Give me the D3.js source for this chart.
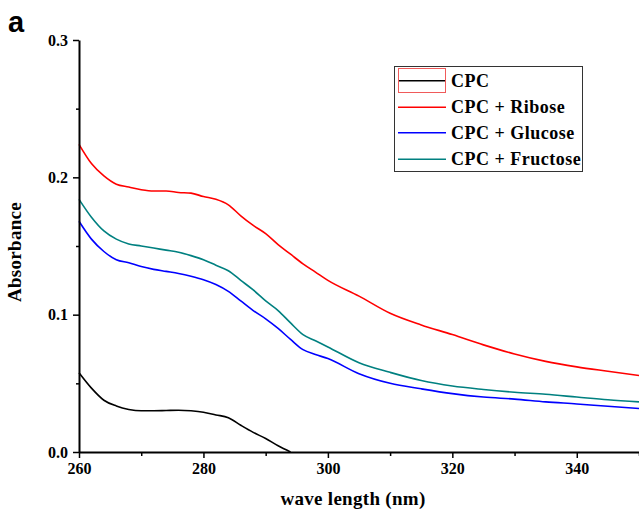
<!DOCTYPE html>
<html>
<head>
<meta charset="utf-8">
<script src="https://cdn.jsdelivr.net/npm/d3@7"></script>
<style>
  body { margin: 0; background: white; }
  text { font-family: "Liberation Serif", "Times New Roman", serif; font-weight: bold; }
</style>
</head>
<body>
<svg id="chart" width="639" height="513"></svg>
<script>
  // wavelength grid (nm)
  let wavelength = [260, 262, 264, 266, 268, 270, 272, 274, 276, 278, 280, 282, 284, 286, 288, 290, 292, 294,
                    296, 298, 300, 305, 310, 315, 320, 325, 330, 335, 340, 345, 350];
  let cpc = [0.0577, 0.0465, 0.0377, 0.0335, 0.031, 0.030, 0.030, 0.0302, 0.0304, 0.030, 0.029, 0.027, 0.025,
             0.0195, 0.0143, 0.0098, 0.0045, 0.0];
  let ribose = [0.224, 0.210, 0.201, 0.195, 0.193, 0.191, 0.190, 0.190, 0.189, 0.1885, 0.186, 0.184, 0.180,
                0.172, 0.165, 0.159, 0.151, 0.144, 0.137, 0.131, 0.125, 0.1135, 0.101, 0.0925, 0.0855, 0.078,
                0.0714, 0.066, 0.062, 0.0588, 0.0557];
  let glucose = [0.168, 0.155, 0.146, 0.140, 0.1378, 0.135, 0.133, 0.1315, 0.130, 0.128, 0.1255, 0.122, 0.117,
                 0.110, 0.103, 0.097, 0.090, 0.082, 0.0745, 0.071, 0.068, 0.057, 0.050, 0.046, 0.0425, 0.040,
                 0.0385, 0.0365, 0.035, 0.0333, 0.0317];
  let fructose = [0.184, 0.171, 0.161, 0.155, 0.1515, 0.150, 0.1485, 0.147, 0.1455, 0.143, 0.140, 0.136, 0.132,
                  0.125, 0.118, 0.110, 0.103, 0.094, 0.0855, 0.081, 0.0765, 0.065, 0.058, 0.052, 0.048, 0.0455,
                  0.0435, 0.042, 0.040, 0.038, 0.0365];
  let seriesNames = ["CPC", "CPC + Ribose", "CPC + Glucose", "CPC + Fructose"];
  let seriesColors = ["#000000", "#ff0000", "#0000ff", "#008080"];
  let xMajor = [260, 280, 300, 320, 340];
  let xMinor = [270, 290, 310, 330, 350];
  let yMajor = [0.0, 0.1, 0.2, 0.3];
  let yMinor = [0.05, 0.15, 0.25];

  let svg = d3.select("#chart");
  let margin = {top: 40, bottom: 61, left: 79, right: 0};
  let width = +svg.attr("width"), height = +svg.attr("height");

  let x = d3.scaleLinear().domain([260, 350]).range([margin.left, width - margin.right]);
  let y = d3.scaleLinear().domain([0, 0.3]).range([height - margin.bottom, margin.top]);

  // curves
  let allSeries = [cpc, ribose, glucose, fructose];
  let line = d3.line()
    .curve(d3.curveMonotoneX)
    .x(function(d) { return x(d[0]); })
    .y(function(d) { return y(d[1]); });

  allSeries.forEach(function(vals, i) {
    let pts = vals.map(function(v, j) { return [wavelength[j], v]; });
    svg.append("path")
      .datum(pts)
      .attr("fill", "none")
      .attr("stroke", seriesColors[i])
      .attr("stroke-width", 1.6)
      .attr("d", line);
  });

  // axes
  let xAxisG = svg.append("g").attr("transform", "translate(0," + y(0) + ")");
  xAxisG.call(d3.axisBottom(x).tickValues(xMajor).tickSize(6).tickSizeOuter(0).tickFormat(d3.format("d")));
  let xMinorG = svg.append("g").attr("transform", "translate(0," + y(0) + ")");
  xMinorG.call(d3.axisBottom(x).tickValues(xMinor).tickSize(4).tickFormat(""));
  xMinorG.select(".domain").remove();

  let yAxisG = svg.append("g").attr("transform", "translate(" + x(260) + ",0)");
  yAxisG.call(d3.axisLeft(y).tickValues(yMajor).tickSize(6).tickSizeOuter(0).tickFormat(d3.format(".1f")));
  let yMinorG = svg.append("g").attr("transform", "translate(" + x(260) + ",0)");
  yMinorG.call(d3.axisLeft(y).tickValues(yMinor).tickSize(3).tickFormat(""));
  yMinorG.select(".domain").remove();

  svg.selectAll(".domain").attr("stroke", "#000").attr("stroke-width", 2);
  svg.selectAll(".tick line").attr("stroke", "#000").attr("stroke-width", 1.5);
  xAxisG.selectAll(".tick text")
    .attr("font-family", "Liberation Serif").attr("font-weight", "bold")
    .attr("font-size", 16).attr("fill", "#000").attr("y", 11);
  yAxisG.selectAll(".tick text")
    .attr("font-family", "Liberation Serif").attr("font-weight", "bold")
    .attr("font-size", 16).attr("fill", "#000").attr("x", -11);

  // axis titles
  svg.append("text")
    .attr("x", 353).attr("y", 505)
    .attr("text-anchor", "middle")
    .style("font-size", "19px")
    .style("letter-spacing", "0.3px")
    .text("wave length (nm)");

  svg.append("text")
    .attr("transform", "translate(21,252) rotate(-90)")
    .attr("text-anchor", "middle")
    .style("font-size", "19px")
    .style("letter-spacing", "0.3px")
    .text("Absorbance");

  // panel letter
  svg.append("text")
    .attr("x", 8).attr("y", 32)
    .style("font-family", "Liberation Sans, Arial, sans-serif")
    .style("font-size", "29px")
    .text("a");

  // legend
  let legend = svg.append("g");
  legend.append("rect")
    .attr("x", 394.5).attr("y", 66.5).attr("width", 188).attr("height", 105)
    .attr("fill", "white").attr("stroke", "#333").attr("stroke-width", 1);
  let rowY = [80.7, 107.3, 132.7, 159.3];
  seriesNames.forEach(function(name, i) {
    legend.append("line")
      .attr("x1", 398).attr("x2", 446)
      .attr("y1", rowY[i]).attr("y2", rowY[i])
      .attr("stroke", seriesColors[i]).attr("stroke-width", 1.6);
    legend.append("text")
      .attr("x", 451).attr("y", rowY[i] + 6)
      .style("font-size", "18px")
      .style("letter-spacing", "0.5px")
      .text(name);
  });
  // selection box drawn round the first legend sample
  legend.append("rect")
    .attr("x", 398.5).attr("y", 68.5).attr("width", 47).attr("height", 24)
    .attr("fill", "none").attr("stroke", "#f05a5a").attr("stroke-width", 1);
</script>
</body>
</html>
